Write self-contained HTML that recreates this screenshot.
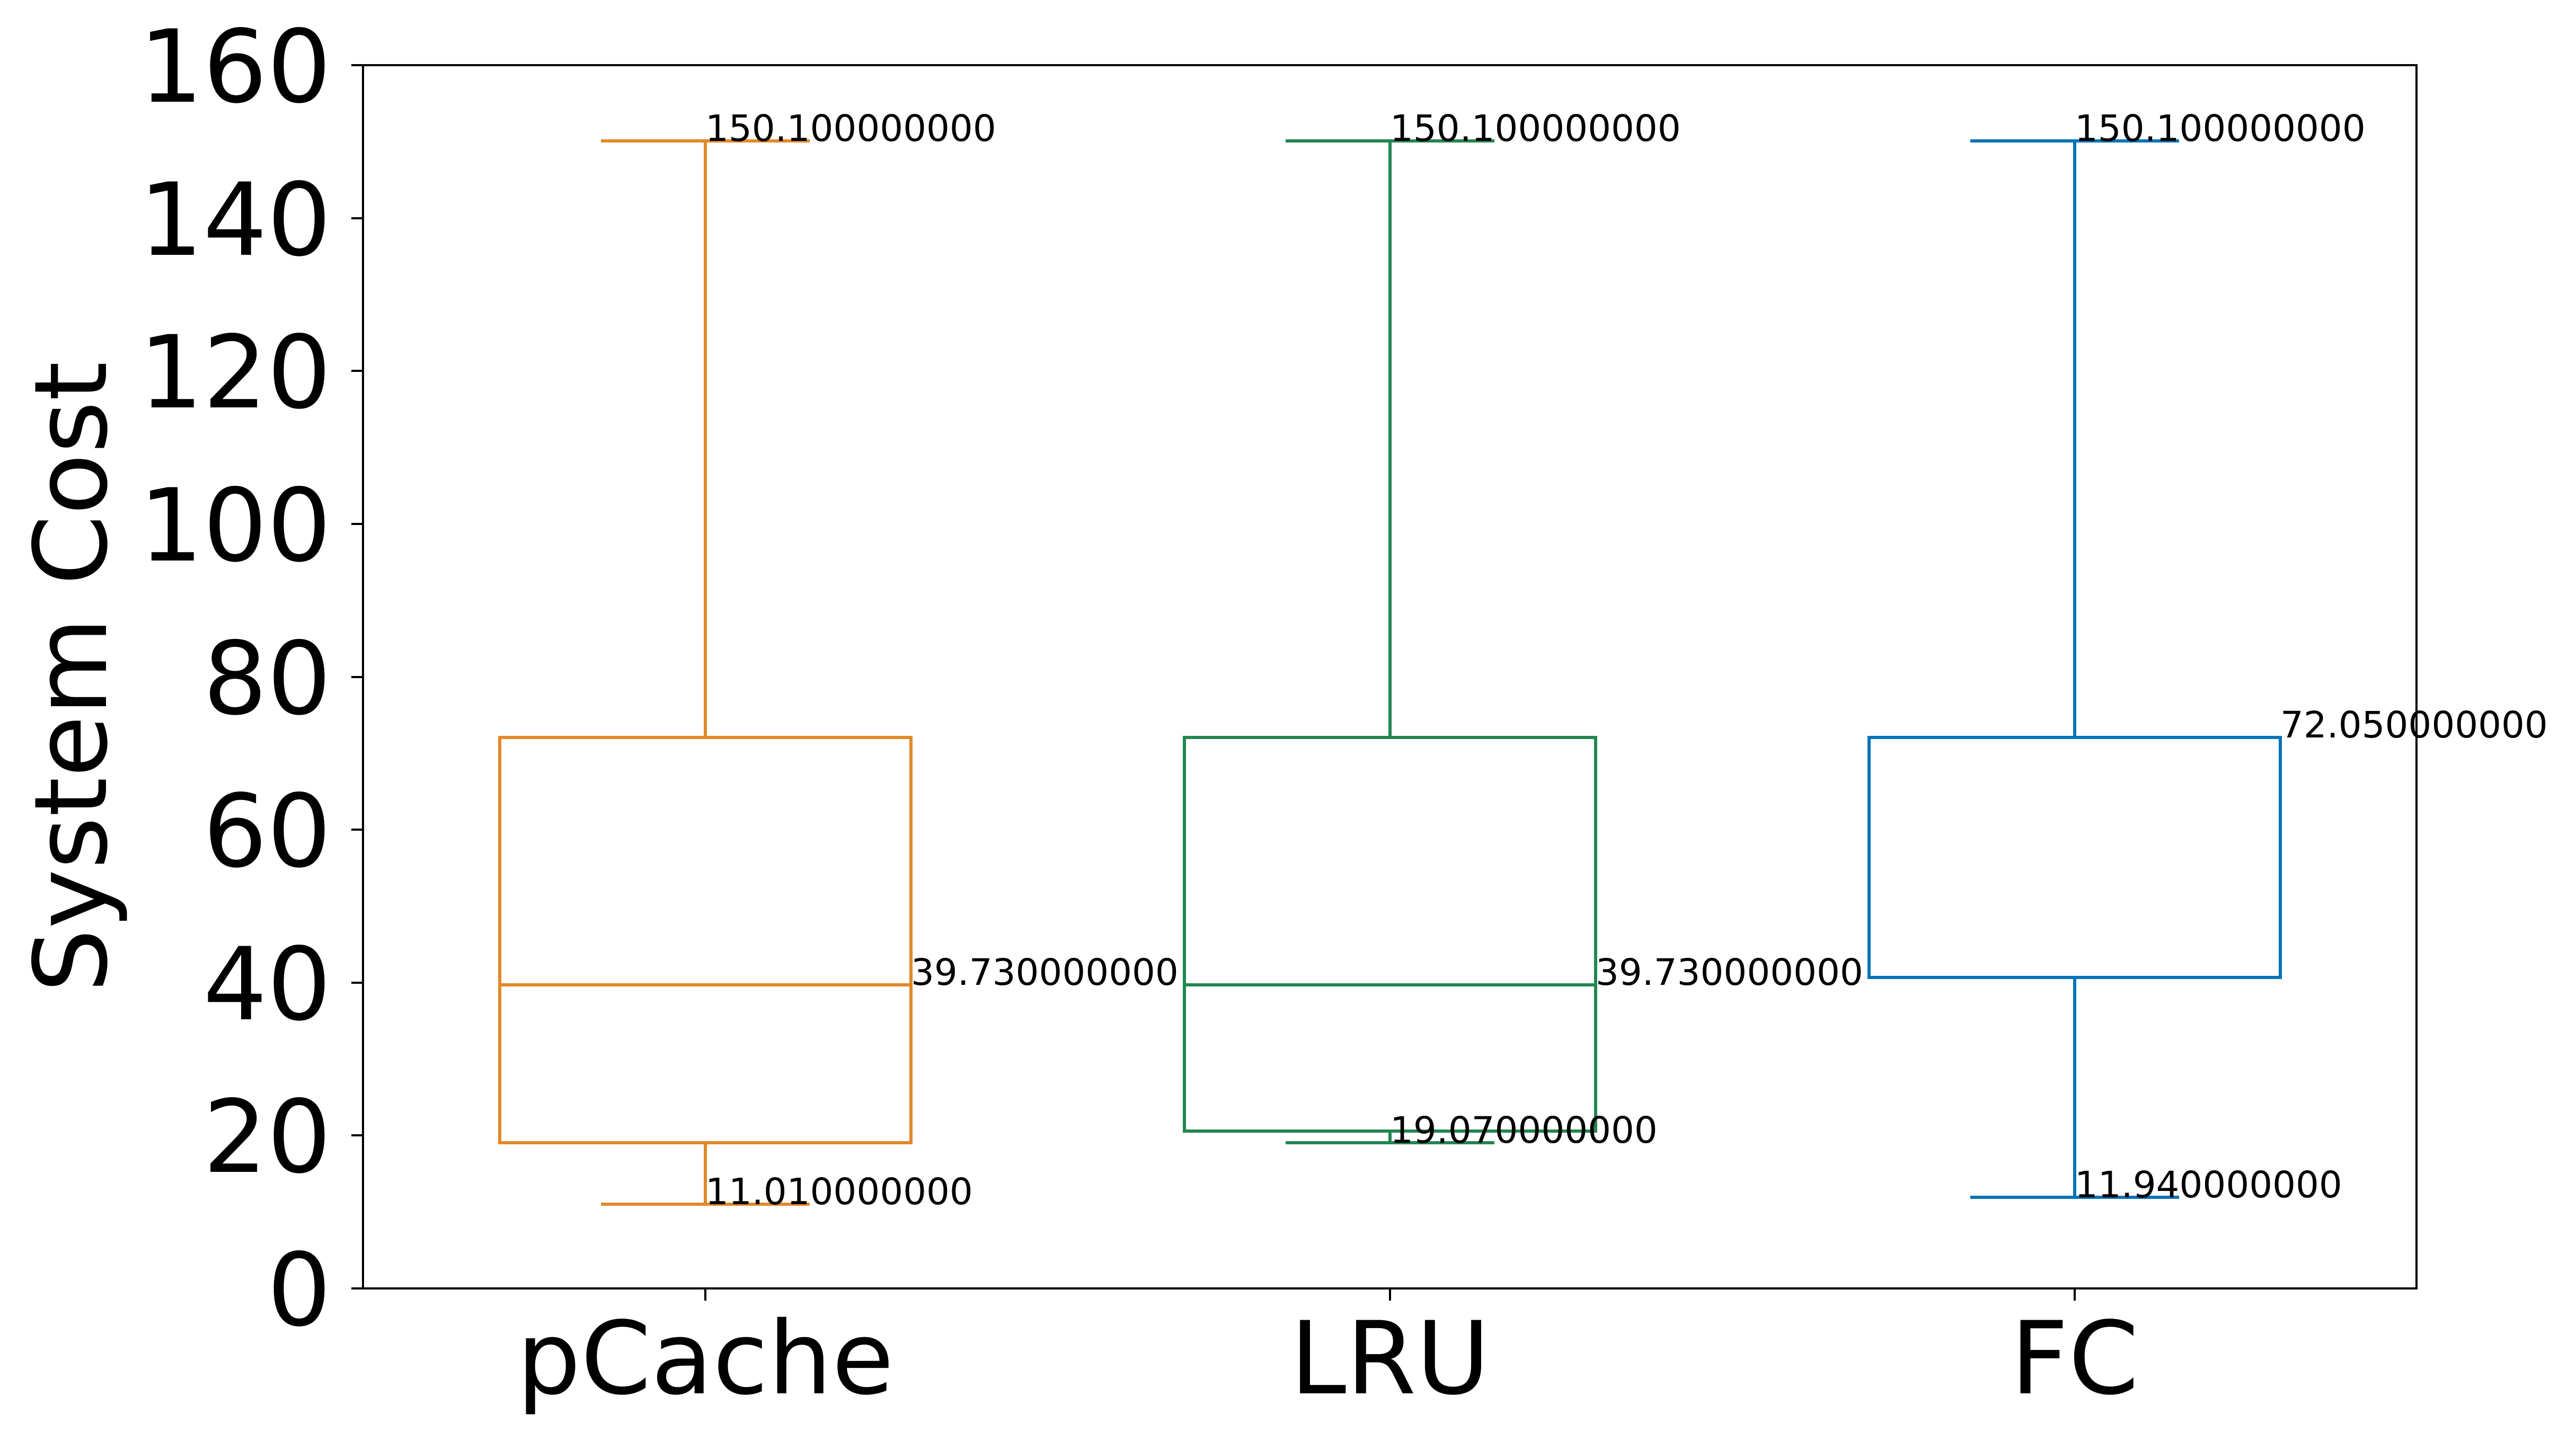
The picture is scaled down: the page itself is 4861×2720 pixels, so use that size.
<!DOCTYPE html>
<html><head><meta charset="utf-8"><style>html,body{margin:0;padding:0;background:#fff}svg{display:block}</style></head>
<body>
<svg width="4861" height="2720" viewBox="0 0 4861 2720" xmlns="http://www.w3.org/2000/svg" font-family="DejaVu Sans, Liberation Sans, sans-serif">
<rect width="4861" height="2720" fill="#fff"/>
<g fill="none" stroke-width="6" stroke-linecap="butt">
<g stroke="#e1892a">
<rect x="943" y="1392" width="776" height="765"/>
<line x1="943" y1="1859" x2="1719" y2="1859"/>
<line x1="1331" y1="1392" x2="1331" y2="266"/>
<line x1="1331" y1="2157" x2="1331" y2="2273"/>
<line x1="1134" y1="266" x2="1528" y2="266"/>
<line x1="1134" y1="2273" x2="1528" y2="2273"/>
</g>
<g stroke="#238650">
<rect x="2235" y="1392" width="776" height="743"/>
<line x1="2235" y1="1859" x2="3011" y2="1859"/>
<line x1="2623" y1="1392" x2="2623" y2="266"/>
<line x1="2623" y1="2135" x2="2623" y2="2157"/>
<line x1="2426" y1="266" x2="2820" y2="266"/>
<line x1="2426" y1="2157" x2="2820" y2="2157"/>
</g>
<g stroke="#0173b7">
<rect x="3527" y="1392" width="776" height="453"/>
<line x1="3915" y1="1392" x2="3915" y2="266"/>
<line x1="3915" y1="1845" x2="3915" y2="2260"/>
<line x1="3718" y1="266" x2="4112" y2="266"/>
<line x1="3718" y1="2260" x2="4112" y2="2260"/>
</g>
</g>
<rect x="685" y="123" width="3875" height="2309" fill="none" stroke="#000" stroke-width="4"/>
<g stroke="#000" stroke-width="4">
<line x1="663" y1="123" x2="685" y2="123"/>
<line x1="663" y1="412" x2="685" y2="412"/>
<line x1="663" y1="700" x2="685" y2="700"/>
<line x1="663" y1="989" x2="685" y2="989"/>
<line x1="663" y1="1278" x2="685" y2="1278"/>
<line x1="663" y1="1566" x2="685" y2="1566"/>
<line x1="663" y1="1855" x2="685" y2="1855"/>
<line x1="663" y1="2143" x2="685" y2="2143"/>
<line x1="663" y1="2432" x2="685" y2="2432"/>
<line x1="1331" y1="2432" x2="1331" y2="2455"/>
<line x1="2623" y1="2432" x2="2623" y2="2455"/>
<line x1="3915" y1="2432" x2="3915" y2="2455"/>
</g>
<g font-size="190" text-anchor="end" fill="#000">
<text x="625" y="192">160</text>
<text x="625" y="481">140</text>
<text x="625" y="769">120</text>
<text x="625" y="1058">100</text>
<text x="625" y="1347">80</text>
<text x="625" y="1635">60</text>
<text x="625" y="1924">40</text>
<text x="625" y="2212">20</text>
<text x="625" y="2501">0</text>
</g>
<g font-size="190" text-anchor="middle" fill="#000">
<text x="1331" y="2630">pCache</text>
<text x="2623" y="2630">LRU</text>
<text x="3915" y="2630">FC</text>
<text transform="translate(200,1278) rotate(-90)">System Cost</text>
</g>
<g font-size="69" fill="#000">
<text x="1331" y="266">150.100000000</text>
<text x="2623" y="266">150.100000000</text>
<text x="3915" y="266">150.100000000</text>
<text x="1719" y="1859">39.730000000</text>
<text x="3011" y="1859">39.730000000</text>
<text x="1331" y="2273">11.010000000</text>
<text x="2623" y="2157">19.070000000</text>
<text x="3915" y="2260">11.940000000</text>
<text x="4303" y="1392">72.050000000</text>
</g>
</svg>
</body></html>
